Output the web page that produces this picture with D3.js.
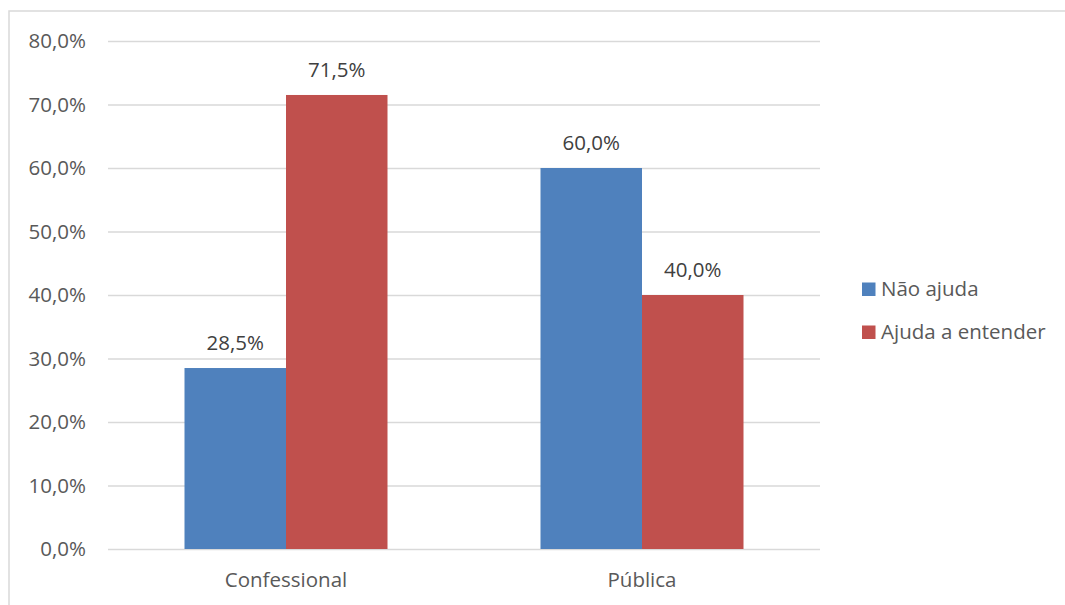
<!DOCTYPE html>
<html><head><meta charset="utf-8">
<script src="https://cdn.jsdelivr.net/npm/d3@7"></script>
<style>body{margin:0;background:#fff}svg{display:block}text{font-family:"Open Sans","Liberation Sans",sans-serif;fill:#595959}</style>
</head><body>
<svg id="c" width="1065" height="605"></svg>
<script>
const categories = ["Confessional", "Pública"];
const seriesNames = ["Não ajuda", "Ajuda a entender"];
const naoAjuda = [28.5, 60.0];
const ajudaEntender = [71.5, 40.0];
const yTicks = [0, 10, 20, 30, 40, 50, 60, 70, 80];
const colors = ["#4f81bd", "#c0504d"];

const FS = "20.5px";
const svg = d3.select("#c");
svg.append("rect").attr("x", 9).attr("y", 11).attr("width", 1100).attr("height", 700)
  .attr("fill", "none").attr("stroke", "#d9d9d9").attr("stroke-width", 1.5);

const L = 108, R = 820, T = 41, B = 549;
const x = d3.scaleBand().domain(categories).range([L, R]).paddingInner(0).paddingOuter(0);
const y = d3.scaleLinear().domain([0, 80]).range([B, T]);
const fmt = v => d3.format(".1f")(v).replace(".", ",") + "%";

const yAxis = svg.append("g").attr("transform", `translate(${L},0)`)
  .call(d3.axisLeft(y).tickValues(yTicks).tickSize(-(R - L)).tickFormat(fmt).tickPadding(22));
yAxis.select(".domain").remove();
yAxis.selectAll("line").attr("stroke", "#d9d9d9").attr("stroke-width", 1.3);
yAxis.selectAll("text").style("font-size", FS).attr("fill", "#595959");

const xAxis = svg.append("g").attr("transform", `translate(0,${B})`)
  .call(d3.axisBottom(x).tickSize(0).tickPadding(23));
xAxis.select(".domain").remove();
xAxis.selectAll("text").style("font-size", FS).attr("fill", "#595959");

const data = [naoAjuda, ajudaEntender];
const barW = 101.5;
const sub = d3.scaleBand().domain(seriesNames).range([x.bandwidth()/2 - barW, x.bandwidth()/2 + barW]);
categories.forEach((c, i) => {
  seriesNames.forEach((s, j) => {
    const v = data[j][i];
    const bx = x(c) + sub(s);
    svg.append("rect").attr("x", bx).attr("y", y(v)).attr("width", sub.bandwidth())
      .attr("height", y(0) - y(v)).attr("fill", colors[j]);
    svg.append("text").attr("x", bx + sub.bandwidth()/2).attr("y", y(v) - 18)
      .attr("text-anchor", "middle").style("font-size", FS).style("fill", "#404040").text(fmt(v));
  });
});

const leg = svg.append("g");
seriesNames.forEach((s, j) => {
  const cy = 289 + j * 43;
  leg.append("rect").attr("x", 862).attr("y", cy - 6.5).attr("width", 13.5).attr("height", 13.5).attr("fill", colors[j]);
  leg.append("text").attr("x", 881).attr("y", cy).attr("dy", "0.35em").style("font-size", FS).text(s);
});
</script>
</body></html>
